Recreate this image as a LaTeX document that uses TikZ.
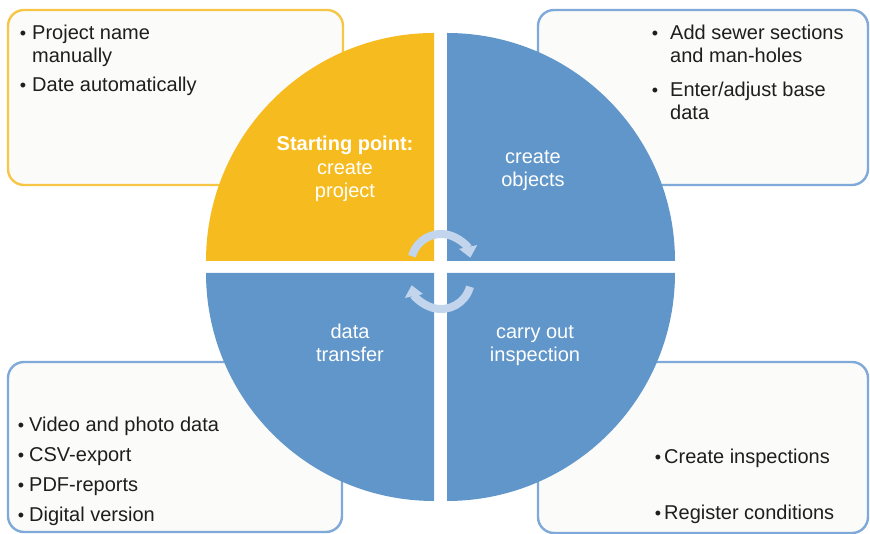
\documentclass[tikz,border=0pt]{standalone}
\usepackage{fontspec}
\setmainfont{Liberation Sans}
\usepackage{tikz}
\usetikzlibrary{arrows.meta}
\usepackage{xcolor}

\definecolor{startyellow}{HTML}{F6BB1E}
\definecolor{stepblue}{HTML}{6096C9}
\definecolor{yellowline}{HTML}{F8C646}
\definecolor{blueline}{HTML}{7EA9D8}
\definecolor{boxfill}{HTML}{FBFBF9}
\definecolor{cycleblue}{HTML}{C2D5EC}
\definecolor{bodytext}{HTML}{1E1E1E}

\begin{document}
\begin{tikzpicture}[
    x=1pt, y=1pt,
    infobox/.style={rounded corners=16pt, line width=2.4pt, fill=boxfill},
    quarter/.style={text=white, align=center, font=\fontsize{20}{23.5}\selectfont},
    item/.style={anchor=base west, align=left, text=bodytext, inner sep=0pt, font=\fontsize{20}{22.5}\selectfont},
    dot/.style={anchor=base, text=bodytext, inner sep=0pt, font=\fontsize{18}{20}\selectfont},
    turn/.style={cycleblue, line width=8pt, -{Triangle[width=18pt, length=11pt]}},
]
\useasboundingbox (0,0) rectangle (870,534);

% boxes behind the circle
\draw[infobox, draw=yellowline] (8,349) rectangle (343,524);
\draw[infobox, draw=blueline] (538,349) rectangle (868,524);
\draw[infobox, draw=blueline] (8,2) rectangle (342,172);
\draw[infobox, draw=blueline] (538,1) rectangle (868,172);

% four quarters
\fill[startyellow] (434,273) -- (206,273) arc[start angle=180, end angle=90, radius=228pt] -- cycle;
\fill[stepblue] (447,273) -- (447,501) arc[start angle=90, end angle=0, radius=228pt] -- cycle;
\fill[stepblue] (447,261) -- (675,261) arc[start angle=0, end angle=-90, radius=228pt] -- cycle;
\fill[stepblue] (434,261) -- (434,33) arc[start angle=270, end angle=180, radius=228pt] -- cycle;

% labels, placed at the baseline of their last line
\node[quarter, anchor=base] (start) at (345,336) {\textbf{Starting point:}\\create\\project};
\node[quarter, anchor=base] (objects) at (533,347) {create\\objects};
\node[quarter, anchor=base] (transfer) at (350,172) {data\\transfer};
\node[quarter, anchor=base] (inspect) at (535,172) {carry out\\inspection};

% circular arrows
\draw[turn] (441,270) ++(165:30) arc[start angle=165, end angle=12, radius=30pt];
\draw[turn] (441,255) ++(-15:30) arc[start angle=-15, end angle=-168, radius=30pt];

% top left
\node[dot] (tl1) at (23,494) {\textbullet};
\node[item] (tlt1) at (32,471.5) {Project name\\manually};
\node[dot] (tl2) at (23,442) {\textbullet};
\node[item] (tlt2) at (32,442) {Date automatically};

% top right
\node[dot] (tr1) at (655,494) {\textbullet};
\node[item] (trt1) at (670,471.5) {Add sewer sections\\and man-holes};
\node[dot] (tr2) at (655,437) {\textbullet};
\node[item] (trt2) at (670,414.5) {Enter/adjust base\\data};

% bottom left
\node[dot] (bl1) at (21,102) {\textbullet};
\node[item] (blt1) at (29,102) {Video and photo data};
\node[dot] (bl2) at (21,72) {\textbullet};
\node[item] (blt2) at (29,72) {CSV-export};
\node[dot] (bl3) at (21,42) {\textbullet};
\node[item] (blt3) at (29,42) {PDF-reports};
\node[dot] (bl4) at (21,12) {\textbullet};
\node[item] (blt4) at (29,12) {Digital version};

% bottom right
\node[dot] (br1) at (658,70) {\textbullet};
\node[item] (brt1) at (664,70) {Create inspections};
\node[dot] (br2) at (658,14) {\textbullet};
\node[item] (brt2) at (664,14) {Register conditions};

\end{tikzpicture}
\end{document}
